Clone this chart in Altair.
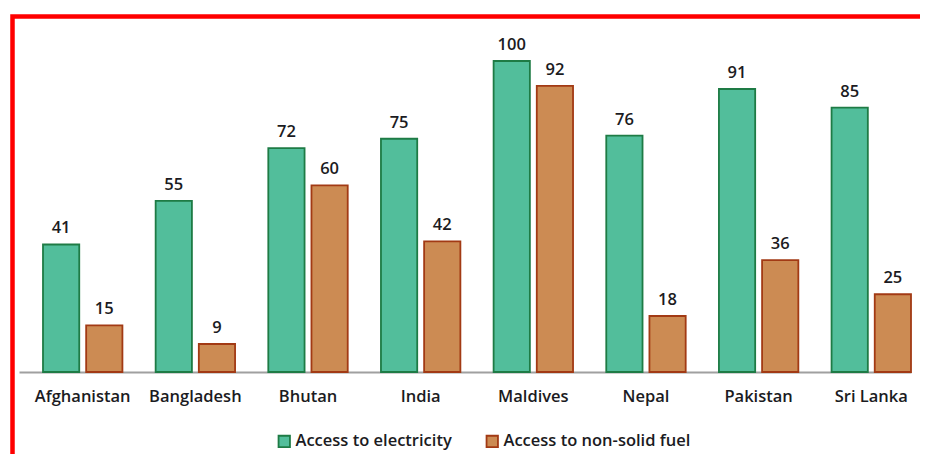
import altair as alt
import pandas as pd

countries = ["Afghanistan", "Bangladesh", "Bhutan", "India", "Maldives", "Nepal", "Pakistan", "Sri Lanka"]
electricity = [41, 55, 72, 75, 100, 76, 91, 85]
fuel = [15, 9, 60, 42, 92, 18, 36, 25]
series = ["Access to electricity", "Access to non-solid fuel"]
fills = ["#52BE9B", "#CC8B53"]
strokes = ["#1E7B45", "#A23A14"]

rows = []
for c, e, f in zip(countries, electricity, fuel):
    rows.append({"country": c, "series": series[0], "value": e})
    rows.append({"country": c, "series": series[1], "value": f})
df = pd.DataFrame(rows)

FONT = "Open Sans"
W = 600
TXT = "#1b1b22"

x = alt.X("country:N", sort=countries, title=None,
          scale=alt.Scale(paddingInner=0.295, paddingOuter=0.1065, align=1),
          axis=alt.Axis(labelAngle=0, ticks=False, labelPadding=16, labelFontSize=16.5,
                        labelFontWeight=W, labelFont=FONT, labelColor=TXT,
                        domainColor="#a0a0a0", domainWidth=2, grid=False))
xo = alt.XOffset("series:N", sort=series, scale=alt.Scale(paddingInner=0.16, paddingOuter=0))
y = alt.Y("value:Q", scale=alt.Scale(domain=[0, 100]), axis=None)

leg = dict(orient="none", legendX=257, legendY=372, direction="horizontal",
           symbolType="square", symbolSize=130, symbolStrokeWidth=1.8,
           labelFont=FONT, labelFontSize=16.5, labelFontWeight=W,
           labelColor=TXT, columnPadding=30, labelOffset=3, labelLimit=300)

bars = alt.Chart(df).mark_bar(strokeWidth=1.8).encode(
    x=x, xOffset=xo, y=y,
    fill=alt.Fill("series:N", sort=series, title=None,
                  scale=alt.Scale(domain=series, range=fills),
                  legend=alt.Legend(**leg)),
    stroke=alt.Stroke("series:N", sort=series, title=None,
                      scale=alt.Scale(domain=series, range=strokes),
                      legend=alt.Legend(**leg)),
)

labels = alt.Chart(df).mark_text(baseline="bottom", dy=-8, font=FONT, fontSize=16.5,
                                 fontWeight=W, color=TXT).encode(
    x=x, xOffset=xo, y=y, text="value:Q")

border = alt.Chart(pd.DataFrame({"a": [0]})).mark_rect(
    fill=None, stroke="#ff0000", strokeWidth=4.5).encode(
    x=alt.value(-6.5), x2=alt.value(1000), y=alt.value(-44.5), y2=alt.value(600))

chart = alt.layer(border, bars, labels).properties(
    width=892, height=311,
    autosize=alt.AutoSizeParams(type="none"),
    padding={"left": 11, "top": 53, "right": 9, "bottom": 82},
).configure_view(stroke=None)

chart.save("out.html", embed_options={"renderer": "svg", "actions": False})
